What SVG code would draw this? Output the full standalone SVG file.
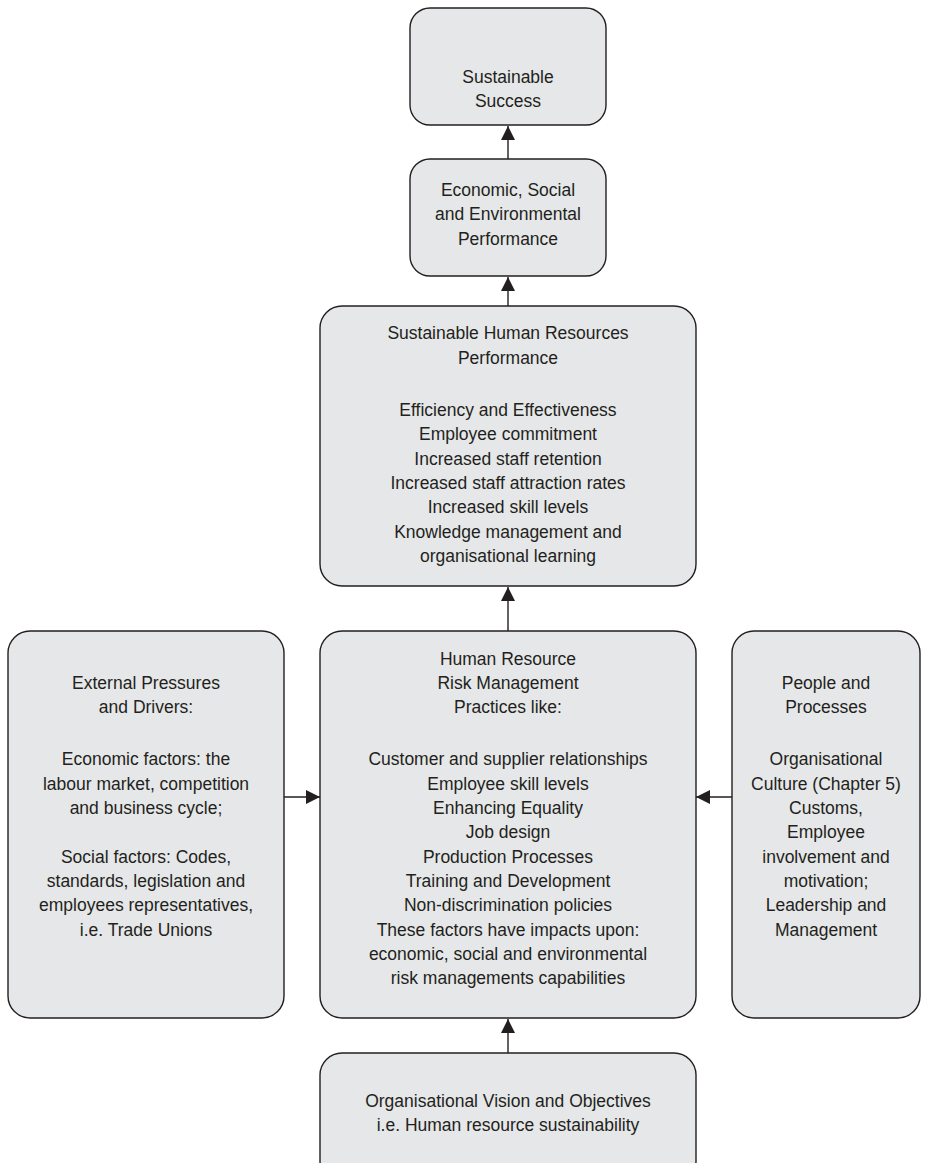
<svg xmlns="http://www.w3.org/2000/svg" width="929" height="1163" viewBox="0 0 929 1163">
<defs>
<style>
.box{fill:#e6e7e8;stroke:#231f20;stroke-width:1.4}
text{font-family:"Liberation Sans",Arial,sans-serif;font-size:17.5px;fill:#231f20;text-anchor:middle}
.conn{stroke:#231f20;stroke-width:1.4;fill:none}
</style>
<marker id="arr" viewBox="0 0 14 14" refX="14" refY="7" markerWidth="14" markerHeight="14" markerUnits="userSpaceOnUse" orient="auto">
<path d="M0,0 L14,7 L0,14 Z" fill="#231f20"/>
</marker>
</defs>
<rect width="929" height="1163" fill="#ffffff"/>
<g id="connectors">
<line class="conn" x1="508" y1="159" x2="508" y2="126" marker-end="url(#arr)"/>
<line class="conn" x1="508" y1="306" x2="508" y2="277" marker-end="url(#arr)"/>
<line class="conn" x1="508" y1="631" x2="508" y2="587" marker-end="url(#arr)"/>
<line class="conn" x1="508" y1="1053" x2="508" y2="1019" marker-end="url(#arr)"/>
<line class="conn" x1="284" y1="797" x2="320" y2="797" marker-end="url(#arr)"/>
<line class="conn" x1="732" y1="797" x2="696" y2="797" marker-end="url(#arr)"/>
</g>
<g id="n-success">
<rect class="box" x="410" y="8" width="196" height="117" rx="20"/>
<text x="508" y="83">Sustainable</text>
<text x="508" y="107">Success</text>
</g>
<g id="n-performance">
<rect class="box" x="410" y="159" width="196" height="117" rx="20"/>
<text x="508" y="196">Economic, Social</text>
<text x="508" y="220">and Environmental</text>
<text x="508" y="245">Performance</text>
</g>
<g id="n-hr-performance">
<rect class="box" x="320" y="306" width="376" height="280" rx="22"/>
<text x="508" y="339">Sustainable Human Resources</text>
<text x="508" y="364">Performance</text>
<text x="508" y="416">Efficiency and Effectiveness</text>
<text x="508" y="440">Employee commitment</text>
<text x="508" y="465">Increased staff retention</text>
<text x="508" y="489">Increased staff attraction rates</text>
<text x="508" y="513">Increased skill levels</text>
<text x="508" y="538">Knowledge management and</text>
<text x="508" y="562">organisational learning</text>
</g>
<g id="n-risk">
<rect class="box" x="320" y="631" width="376" height="387" rx="22"/>
<text x="508" y="665">Human Resource</text>
<text x="508" y="689">Risk Management</text>
<text x="508" y="713">Practices like:</text>
<text x="508" y="765">Customer and supplier relationships</text>
<text x="508" y="790">Employee skill levels</text>
<text x="508" y="814">Enhancing Equality</text>
<text x="508" y="838">Job design</text>
<text x="508" y="863">Production Processes</text>
<text x="508" y="887">Training and Development</text>
<text x="508" y="911">Non-discrimination policies</text>
<text x="508" y="936">These factors have impacts upon:</text>
<text x="508" y="960">economic, social and environmental</text>
<text x="508" y="984">risk managements capabilities</text>
</g>
<g id="n-external">
<rect class="box" x="8" y="631" width="276" height="387" rx="22"/>
<text x="146" y="689">External Pressures</text>
<text x="146" y="713">and Drivers:</text>
<text x="146" y="765">Economic factors: the</text>
<text x="146" y="790">labour market, competition</text>
<text x="146" y="814">and business cycle;</text>
<text x="146" y="863">Social factors: Codes,</text>
<text x="146" y="887">standards, legislation and</text>
<text x="146" y="911">employees representatives,</text>
<text x="146" y="936">i.e. Trade Unions</text>
</g>
<g id="n-people">
<rect class="box" x="732" y="631" width="188" height="387" rx="22"/>
<text x="826" y="689">People and</text>
<text x="826" y="713">Processes</text>
<text x="826" y="765">Organisational</text>
<text x="826" y="790">Culture (Chapter 5)</text>
<text x="826" y="814">Customs,</text>
<text x="826" y="838">Employee</text>
<text x="826" y="863">involvement and</text>
<text x="826" y="887">motivation;</text>
<text x="826" y="911">Leadership and</text>
<text x="826" y="936">Management</text>
</g>
<g id="n-vision">
<rect class="box" x="320" y="1053" width="376" height="130" rx="22"/>
<text x="508" y="1107">Organisational Vision and Objectives</text>
<text x="508" y="1131">i.e. Human resource sustainability</text>
</g>
</svg>
